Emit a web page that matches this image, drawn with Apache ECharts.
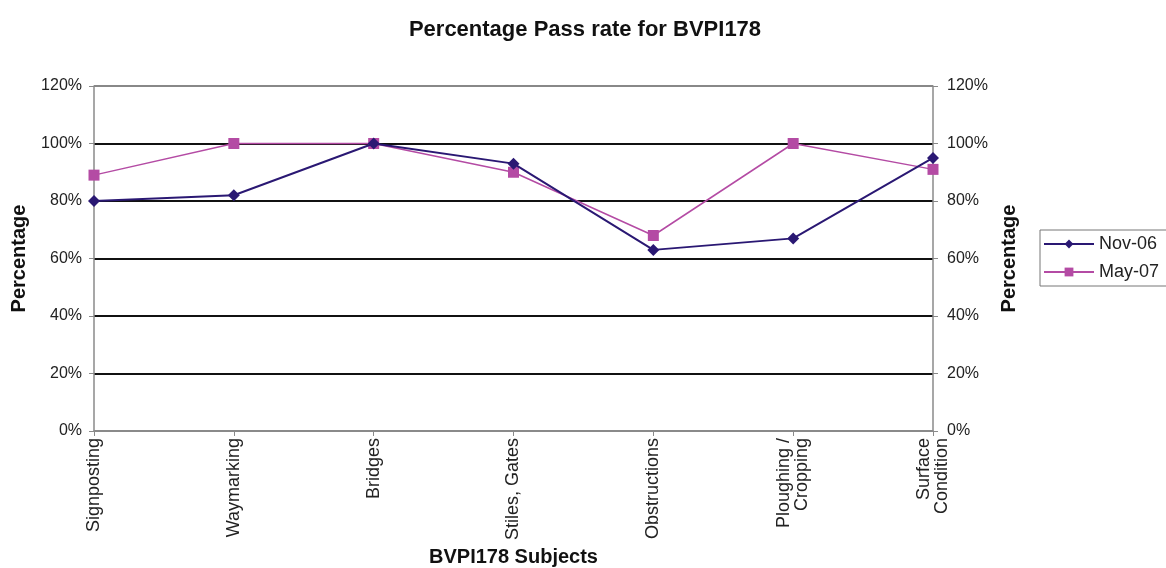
<!DOCTYPE html>
<html><head><meta charset="utf-8">
<script src="https://cdn.jsdelivr.net/npm/echarts@6/dist/echarts.min.js"></script>
<style>html,body{margin:0;padding:0;background:#fff}#c{width:1166px;height:568px}</style>
</head><body><div id="c"></div>
<script>
const categories = ['Signposting','Waymarking','Bridges','Stiles, Gates','Obstructions','Ploughing /\nCropping','Surface\nCondition'];
const nov06 = [80, 82, 100, 93, 63, 67, 95];
const may07 = [89, 100, 100, 90, 68, 100, 91];
const yTicks = [0, 20, 40, 60, 80, 100, 120];

const font = 'Liberation Sans, Arial, sans-serif';
const chart = echarts.init(document.getElementById('c'));
const yAxisBase = {
  type: 'value', min: 0, max: 120, interval: 20,
  axisLine: {show: true, lineStyle: {color: '#8a8a8a', width: 1.5}},
  axisTick: {show: true, length: 5, lineStyle: {color: '#8a8a8a'}},
  name: 'Percentage', nameLocation: 'middle',
  nameTextStyle: {fontFamily: font, fontSize: 20, fontWeight: 'bold', color: '#111'}
};
const yLabel = (m) => ({formatter: v => yTicks.includes(v) ? v + '%' : '', color: '#222', fontFamily: font, fontSize: 16, margin: m});
chart.setOption({
  animation: false,
  title: {text: 'Percentage Pass rate for BVPI178', left: 580, top: 14, textAlign: 'center',
    textStyle: {fontFamily: font, fontSize: 22, fontWeight: 'bold', color: '#111'}},
  grid: {left: 94, right: 233, top: 86, bottom: 137, containLabel: false, outerBoundsMode: 'none'},
  legend: {
    orient: 'vertical', left: 1040, top: 230, itemWidth: 50, itemHeight: 11, itemGap: 10,
    borderColor: '#777', borderWidth: 1, padding: [5, 12, 5, 3],
    textStyle: {fontFamily: font, fontSize: 18, color: '#222'},
    data: ['Nov-06', 'May-07']
  },
  xAxis: {
    type: 'category', data: categories, boundaryGap: false,
    axisLine: {lineStyle: {color: '#8a8a8a', width: 1.5}},
    axisTick: {show: true, length: 5, alignWithLabel: true, lineStyle: {color: '#8a8a8a'}},
    axisLabel: {rotate: 90, color: '#222', fontFamily: font, fontSize: 18, lineHeight: 18, margin: 7, interval: 0},
    name: 'BVPI178 Subjects', nameLocation: 'middle', nameGap: 114,
    nameTextStyle: {fontFamily: font, fontSize: 20, fontWeight: 'bold', color: '#111'}
  },
  yAxis: [
    Object.assign({}, yAxisBase, {position: 'left', nameGap: 65, axisLabel: yLabel(12),
      splitLine: {show: true, lineStyle: {color: ['#888','#111','#111','#111','#111','#111','#888'], width: 2}}}),
    Object.assign({}, yAxisBase, {position: 'right', nameGap: 66, nameRotate: 90, axisLabel: yLabel(14),
      splitLine: {show: false}})
  ],
  series: [
    {name: 'Nov-06', type: 'line', data: nov06, symbol: 'diamond', symbolSize: 12,
      itemStyle: {color: '#2a1873'}, lineStyle: {color: '#2a1873', width: 2}, z: 3},
    {name: 'May-07', type: 'line', data: may07, symbol: 'rect', symbolSize: 11,
      itemStyle: {color: '#b44ba4'}, lineStyle: {color: '#b44ba4', width: 1.5}, z: 2}
  ]
});
</script></body></html>
